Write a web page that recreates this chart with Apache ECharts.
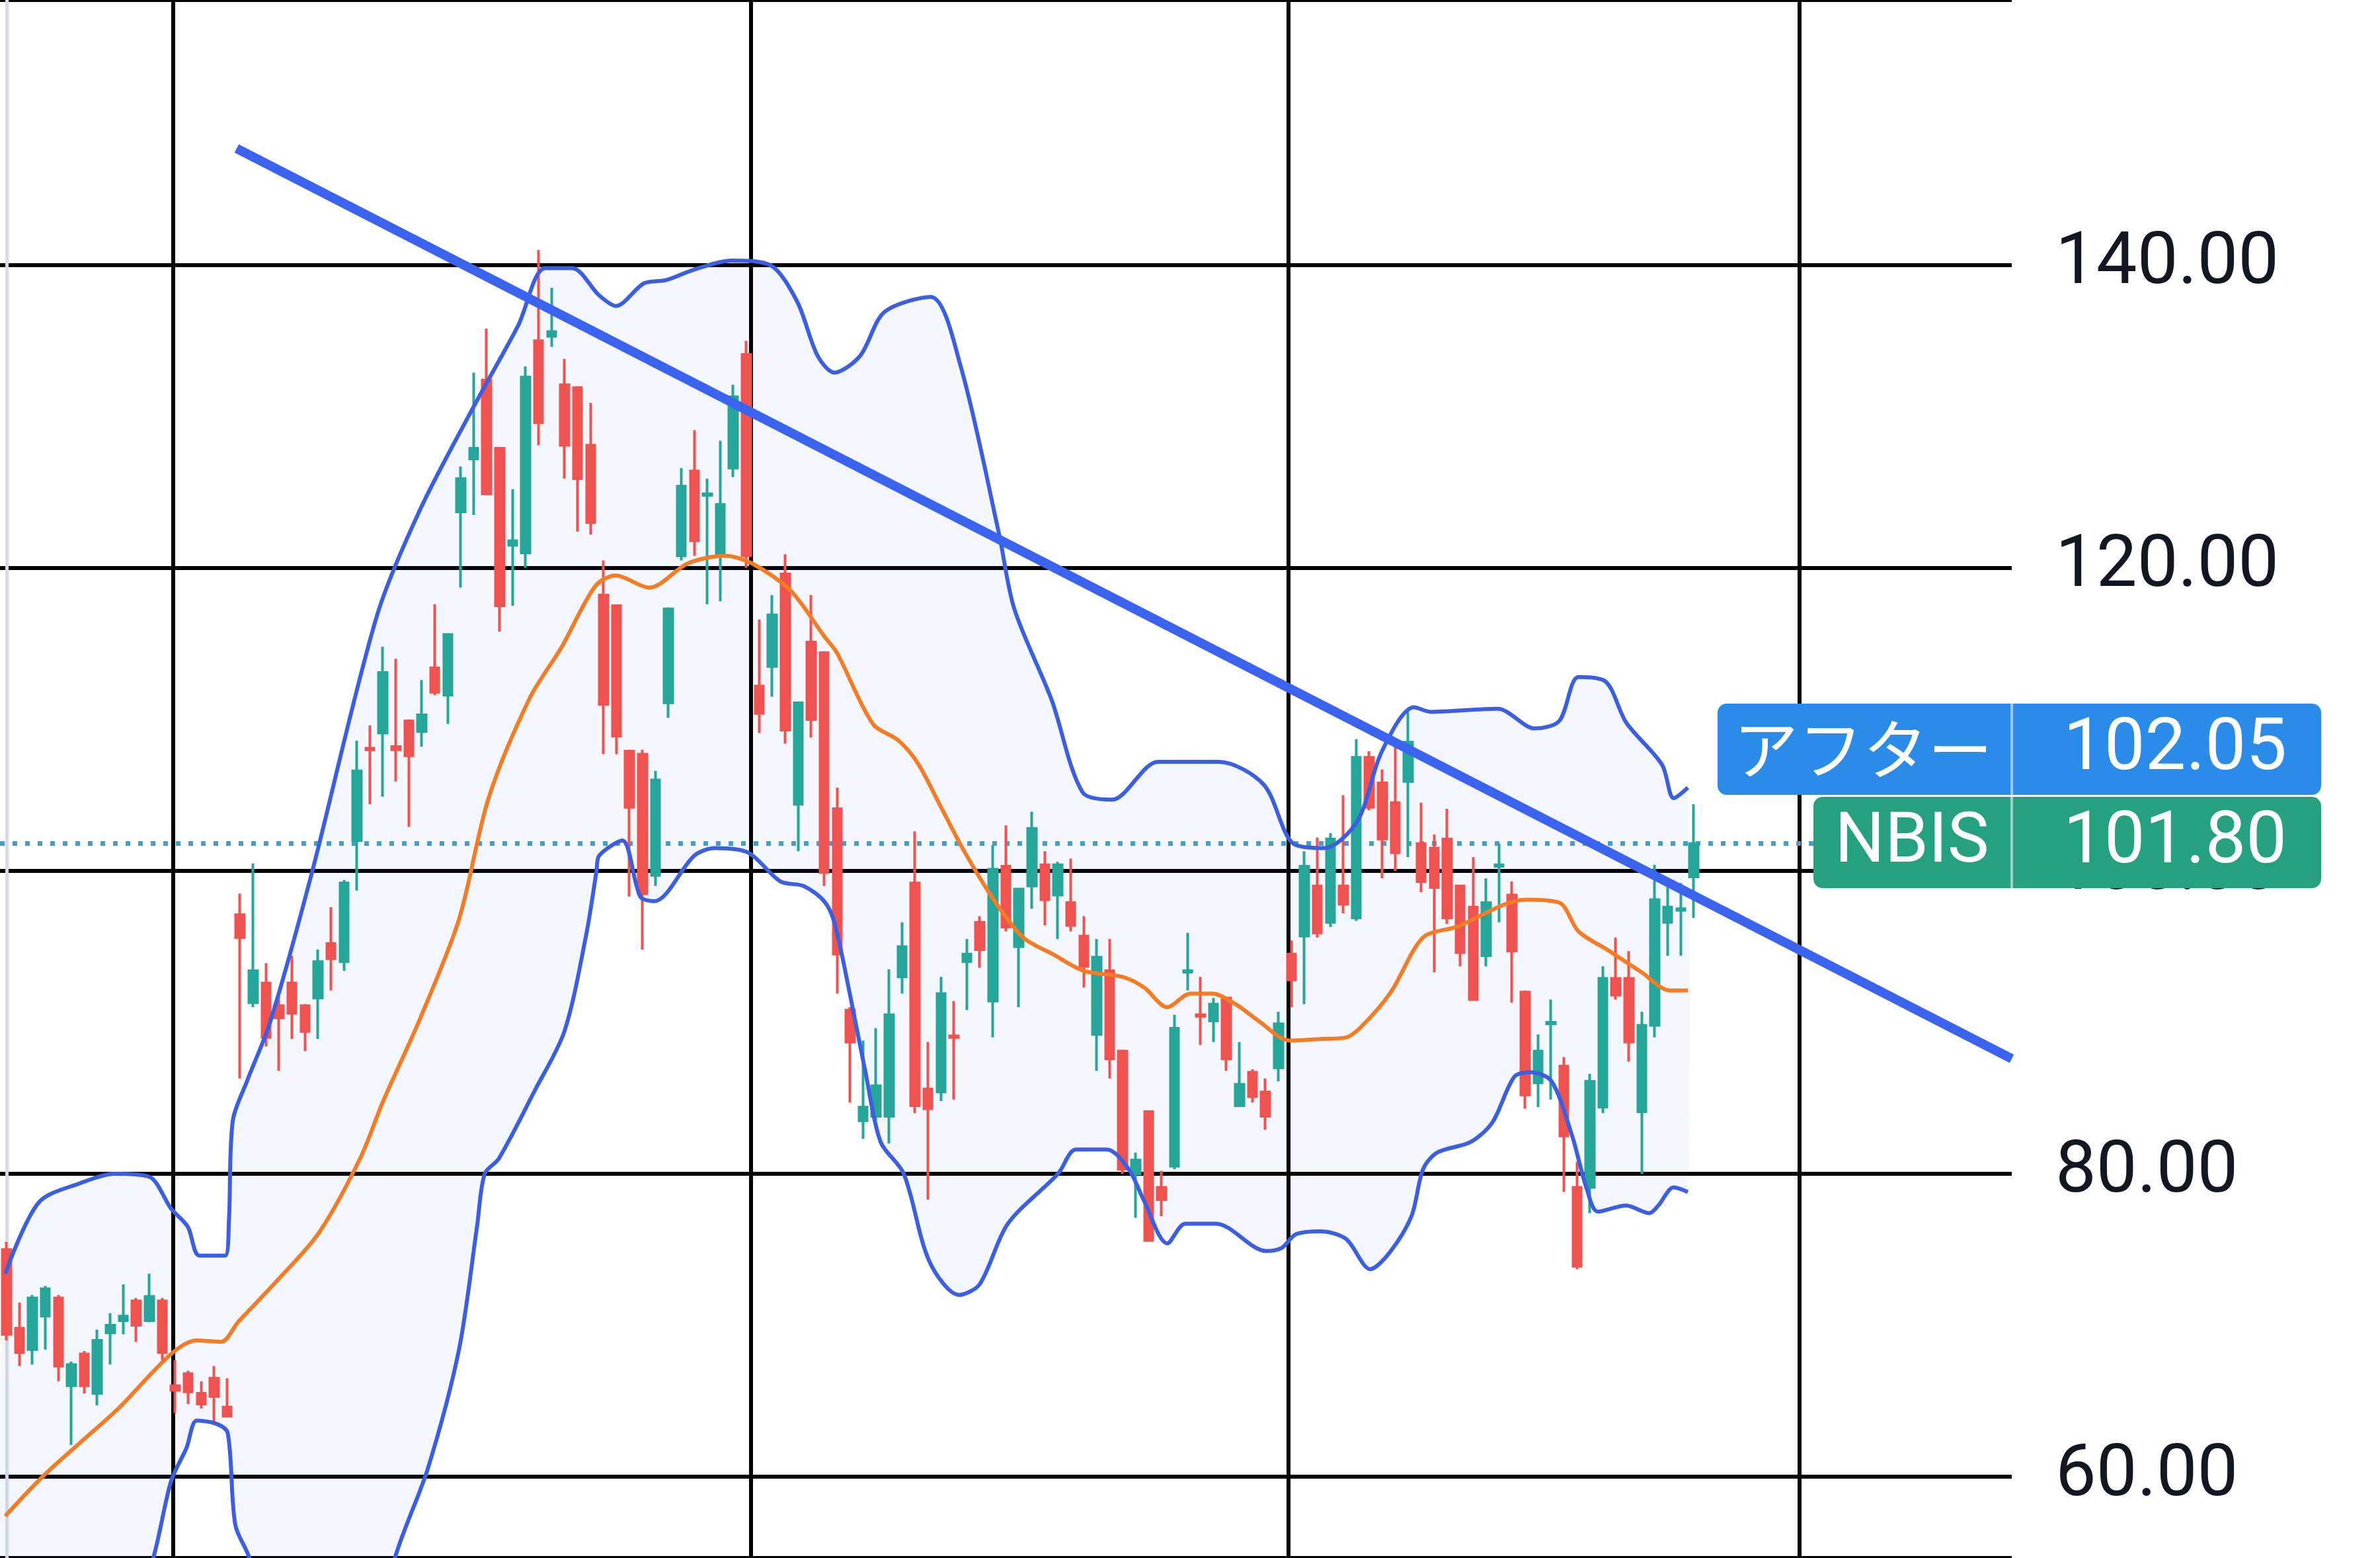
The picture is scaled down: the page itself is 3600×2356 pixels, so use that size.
<!DOCTYPE html>
<html><head><meta charset="utf-8">
<script src="https://cdn.jsdelivr.net/npm/echarts@6/dist/echarts.min.js"></script>
<style>html,body{margin:0;padding:0;background:#fff}#c{width:3600px;height:2356px}</style>
</head><body><div id="c"></div>
<script>
// candles: [open, close, low, high]
const candles = [
[75.0,69.4,69.0,75.5],[69.8,68.2,67.3,71.5],[68.4,71.8,67.4,72.0],[70.6,72.4,68.4,72.6],[71.8,67.3,66.3,72.0],
[66.0,67.4,62.1,67.6],[68.1,66.0,65.5,68.3],[65.5,69.0,64.7,69.7],[69.5,70.0,67.4,70.8],[70.3,70.6,69.4,72.7],
[71.6,70.0,68.9,71.8],[70.3,71.9,70.2,73.4],[71.6,68.2,67.7,71.8],[66.0,65.7,64.2,67.7],[66.8,65.6,64.8,67.0],
[65.5,64.8,64.5,66.3],[66.5,65.3,63.4,67.3],[64.6,64.0,64.0,66.5],[97.1,95.6,86.3,98.5],[91.3,93.4,91.0,100.5],
[92.6,89.0,88.4,93.9],[91.1,90.3,86.8,91.9],[92.6,90.6,88.9,94.4],[91.1,89.4,88.1,91.2],[91.6,94.0,88.9,94.8],
[95.2,94.2,92.1,97.6],[94.0,99.2,93.4,99.4],[102.0,106.6,98.7,108.6],[108.1,108.0,104.4,109.6],[109.1,113.1,104.9,114.8],
[108.2,108.0,105.9,114.0],[109.9,107.6,102.9,110.0],[109.2,110.3,108.2,112.6],[113.4,111.8,111.6,117.6],[111.6,115.6,109.7,115.6],
[123.7,125.9,118.7,126.7],[127.2,127.9,123.5,132.9],[132.4,124.9,124.9,135.8],[127.9,117.5,115.8,128.0],[121.5,121.8,117.5,125.2],
[121.0,132.6,120.0,133.3],[135.0,129.6,128.1,141.0],[135.3,135.6,134.6,138.5],[132.1,128.1,125.9,133.8],[131.9,125.9,122.4,132.0],
[128.1,123.0,122.2,130.9],[118.2,111.0,107.7,120.5],[117.5,108.9,107.7,117.6],[107.9,104.2,98.3,108.0],[107.7,98.5,94.8,108.0],
[99.7,106.0,99.0,106.6],[111.1,117.3,110.1,117.4],[120.8,125.4,120.5,126.6],[126.4,121.8,120.8,129.1],[124.8,124.9,117.6,125.9],
[120.8,124.2,117.8,128.4],[126.6,131.3,126.0,132.1],[134.1,120.8,120.0,135.0],[112.2,110.4,109.1,116.6],[113.5,116.9,111.5,118.2],
[119.6,109.3,108.4,120.9],[104.4,111.1,101.3,111.1],[115.1,110.0,108.8,118.2],[114.4,99.9,99.0,114.5],[104.1,94.5,91.9,105.5],
[90.8,88.7,84.7,91.0],[83.5,84.4,82.3,88.8],[83.8,85.8,83.5,89.6],[83.8,90.5,82.0,93.5],[93.0,95.0,91.9,96.6],
[99.2,84.5,84.0,102.6],[85.6,84.3,78.3,88.7],[85.4,91.9,84.8,93.0],[89.1,89.0,84.9,91.4],[94.0,94.5,90.8,95.5],
[96.6,94.8,93.6,97.0],[91.4,100.1,89.0,101.7],[100.3,96.3,96.0,103.0],[95.0,98.8,91.0,98.8],[99.0,102.8,97.5,103.9],
[100.4,98.1,96.4,101.3],[98.4,100.4,95.5,100.6],[97.9,96.4,96.0,100.8],[95.7,93.7,92.3,97.0],[89.2,94.3,86.8,95.5],
[93.4,87.6,86.3,95.5],[88.1,80.3,80.0,88.2],[80.0,80.9,77.1,81.4],[84.1,75.6,75.6,84.2],[79.1,78.3,77.2,80.2],
[80.5,89.6,80.3,90.5],[93.3,93.4,92.1,95.9],[90.5,90.4,88.5,93.0],[90.1,91.2,88.7,91.6],[91.6,87.6,86.8,91.6],
[84.5,85.9,84.5,88.7],[86.7,85.1,84.7,86.9],[85.4,83.8,82.9,86.3],[87.0,89.9,86.1,90.7],[94.5,92.8,91.0,95.4],
[95.7,100.3,91.2,101.3],[99.0,95.9,95.6,102.2],[96.6,102.1,96.3,102.5],[99.0,97.8,97.2,105.0],[96.9,107.5,96.7,108.7],
[107.5,104.2,104.0,107.9],[105.8,102.1,99.5,106.7],[104.5,101.2,100.0,108.2],[105.9,108.5,100.9,110.5],[101.8,99.3,98.6,104.5],
[101.5,98.9,93.3,102.4],[102.1,96.9,96.5,104.1],[99.0,94.6,93.7,99.0],[97.6,91.5,91.5,100.9],[94.4,97.9,93.7,99.5],
[100.3,100.4,96.6,101.8],[98.4,94.7,91.3,99.3],[92.0,85.2,84.3,92.1],[86.0,88.1,84.4,89.2],[89.9,90.0,84.9,91.5],
[87.1,82.5,78.8,87.7],[79.1,73.9,73.7,80.8],[79.1,86.1,77.4,86.6],[84.4,92.9,84.0,93.7],[92.9,91.8,91.5,95.6],
[92.9,88.7,87.4,94.7],[84.1,89.8,80.0,90.7],[89.8,98.1,89.0,100.4],[96.6,97.6,94.4,99.2],[97.4,97.5,94.4,99.2],
[99.6,101.8,96.9,104.4]
];
const slotCount = 155;
const categories = Array.from({length: slotCount}, (_, i) => String(i));

// Bollinger bands read as [position, value] keypoints
const upperBand = [[-0.1,73.4],[2.5,78.1],[5.8,79.4],[8.4,80.0],[11.1,79.8],[12.8,77.7],[14.1,76.5],[15.0,74.6],[17.0,74.6],[17.3,76.9],[17.6,83.5],[18.7,86.1],[20.5,90],[23.7,99.7],[28.8,116.8],[32.2,123.9],[36.5,130.9],[39.8,136],[41.9,139.8],[44.0,139.8],[46.1,138],[47.4,137.3],[49.6,138.8],[51.3,139],[53.5,139.7],[56.4,140.3],[59.4,140],[61.5,137.6],[63.1,134],[64.4,132.9],[66.4,134],[68.3,136.9],[71.9,137.9],[74.2,133.4],[77.2,122.3],[78.4,117.3],[81.3,111.3],[83.7,105.2],[86.0,104.7],[89.6,107.2],[94.3,107.2],[97.8,105.7],[100.1,101.8],[102.5,101.5],[105.1,103.3],[107.0,107.9],[109.5,110.8],[110.8,110.5],[116.0,110.7],[118.9,109.4],[120.8,109.9],[122.3,112.8],[124.4,112.5],[126.0,109.8],[128.8,107.0],[129.7,104.8],[130.8,105.5]];
const lowerBand = [[-0.1,45],[8,47],[11.3,54.3],[12.8,59.7],[14.0,61.9],[14.8,63.7],[16.3,63.5],[17.2,62.9],[17.8,56.8],[19.0,54.3],[20,45],[28,45],[30.1,54.3],[32.8,60.6],[35.2,68.4],[36.6,76.5],[37.2,80],[38.3,81],[41.1,85.5],[43.4,89.4],[45.1,95.8],[45.9,100],[46.1,101],[47.9,102],[49.3,98.3],[50.4,98.0],[53.5,101.0],[55.1,101.5],[57.7,101.2],[60.2,99.3],[62.0,99.0],[63.6,98.0],[64.4,96.6],[65.6,91.9],[66.8,86.8],[68.0,82.1],[69.8,80.0],[71.8,74.2],[74.1,72.0],[75.7,72.7],[77.9,76.7],[81.8,80.0],[83.2,81.6],[85.6,81.6],[87.3,80.3],[88.5,78.2],[90.3,75.4],[91.7,76.7],[94.1,76.7],[98.0,74.9],[99.2,75.1],[100.3,76.0],[102.2,76.2],[104.2,75.7],[106.1,73.7],[107.6,74.8],[109.3,77.2],[110.2,80.3],[111.3,81.4],[113.9,82.1],[115.6,83.4],[117.3,86.4],[118.6,86.7],[120.2,86.1],[121.8,82.5],[122.9,79.1],[123.8,77.5],[126.0,77.9],[127.8,77.4],[128.5,77.9],[129.7,79.1],[130.8,78.8]];
const middleBand = [[-0.1,57.4],[2.8,60.0],[5.8,62.3],[8.7,64.5],[12.8,68.1],[14.8,69.0],[16.7,68.9],[18.0,70.2],[21.0,72.9],[24.3,76.1],[27.5,81.0],[29.3,84.8],[32.2,90.3],[35.2,96.8],[37.5,104.8],[40.7,111.4],[43.2,114.8],[45.8,118.8],[47.4,119.5],[50.0,118.7],[53.0,120.3],[55.9,120.8],[58.0,120.3],[61.0,118.5],[63.6,115.5],[64.6,114.4],[67.4,109.7],[69.4,108.6],[70.9,107.1],[72.7,104.2],[74.5,101.3],[76.8,98.1],[79.1,95.6],[81.4,94.5],[83.8,93.4],[86.8,93.0],[88.5,92.3],[90.3,91.0],[92.1,91.9],[93.8,91.9],[95.6,91.2],[97.4,90.1],[99.8,88.8],[102.2,88.9],[104.2,89.0],[105.5,89.8],[107.7,92.0],[110.2,95.6],[112.8,96.3],[118.2,98.1],[120.8,97.9],[122.3,96.0],[124.7,94.7],[127.2,93.3],[129.4,92.1],[130.8,92.1]];
const trendLine = [[17.9,147.7],[156.0,87.6]];
const verticalGrid = [12.96, 57.9, 99.7, 139.5];
const yMin = 54.63, yMax = 157.5;
const lastPrice = 101.80;
const afterPrice = 102.05;
const afterLabel = 'アフター';
const tickerLabel = 'NBIS';

const chart = echarts.init(document.getElementById('c'));
const lineFont = 'Roboto, "Noto Sans", sans-serif';
chart.setOption({
  backgroundColor: '#ffffff',
  animation: false,
  grid: {left: -7, right: 557, top: 0, bottom: 0},
  xAxis: [
    {type: 'category', data: categories, boundaryGap: true, show: false},
    {type: 'value', min: -0.51, max: 156.0, show: false}
  ],
  yAxis: {
    type: 'value', position: 'right', min: yMin, max: yMax, splitNumber: 5,
    axisLine: {show: true, lineStyle: {color: '#d9dbe3', width: 5}},
    axisTick: {show: false},
    splitLine: {show: true, lineStyle: {color: '#000000', width: 6}},
    axisLabel: {margin: 66, fontSize: 110, color: '#131722', fontFamily: lineFont, showMinLabel: false, showMaxLabel: false, formatter: v => v.toFixed(2)}
  },
  series: [
    {
      type: 'custom', xAxisIndex: 1, data: [0], silent: true, z: 1,
      renderItem: (params, api) => {
        const pts = upperBand.map(p => api.coord(p)).concat(lowerBand.slice().reverse().map(p => api.coord(p)));
        return {type: 'polygon', shape: {points: pts, smooth: 0.2}, style: {fill: 'rgba(60,120,230,0.06)'}};
      }
    },
    {
      type: 'line', xAxisIndex: 1, data: [], silent: true, z: 2,
      markLine: {symbol: 'none', silent: true, label: {show: false},
        lineStyle: {color: '#000', width: 6, type: 'solid'},
        data: verticalGrid.map(v => ({xAxis: v}))}
    },
    {
      type: 'candlestick', data: candles, z: 5, barWidth: 13,
      itemStyle: {color: '#26a69a', color0: '#ef5350', borderColor: '#26a69a', borderColor0: '#ef5350', borderWidth: 4},
      markLine: {symbol: 'none', silent: true, label: {show: false},
        lineStyle: {color: '#4b9ac8', width: 7, type: [7, 12]},
        data: [{yAxis: lastPrice}]}
    },
    {type: 'line', xAxisIndex: 1, data: upperBand, smooth: 0.3, symbol: 'none', z: 6, lineStyle: {color: '#3b5fe0', width: 6}},
    {type: 'line', xAxisIndex: 1, data: lowerBand, smooth: 0.3, symbol: 'none', z: 6, lineStyle: {color: '#3b5fe0', width: 6}},
    {type: 'line', xAxisIndex: 1, data: middleBand, smooth: 0.3, symbol: 'none', z: 6, lineStyle: {color: '#f57c24', width: 6}},
    {type: 'line', xAxisIndex: 1, data: trendLine, symbol: 'none', z: 7, lineStyle: {color: '#3a63f0', width: 14}}
  ],
  graphic: [
    {type: 'rect', shape: {x: 2598, y: 1064, width: 913, height: 138, r: 14}, style: {fill: '#2a8be8'}, z: 100},
    {type: 'rect', shape: {x: 2743, y: 1205, width: 768, height: 138, r: 14}, style: {fill: '#26a17f'}, z: 100},
    {type: 'rect', shape: {x: 3041, y: 1064, width: 4, height: 279}, style: {fill: 'rgba(255,255,255,0.55)'}, z: 101},
    {type: 'text', style: {text: afterLabel, x: 2818, y: 1133, align: 'center', verticalAlign: 'middle', fontSize: 98, fill: '#fff', fontFamily: '"Noto Sans CJK JP", sans-serif'}, z: 102},
    {type: 'text', style: {text: afterPrice.toFixed(2), x: 3290, y: 1135, align: 'center', verticalAlign: 'middle', fontSize: 110, fill: '#fff', fontFamily: lineFont}, z: 102},
    {type: 'text', style: {text: tickerLabel, x: 2892, y: 1276, align: 'center', verticalAlign: 'middle', fontSize: 106, fill: '#fff', fontFamily: lineFont}, z: 102},
    {type: 'text', style: {text: lastPrice.toFixed(2), x: 3290, y: 1276, align: 'center', verticalAlign: 'middle', fontSize: 110, fill: '#fff', fontFamily: lineFont}, z: 102}
  ]
});
</script></body></html>
